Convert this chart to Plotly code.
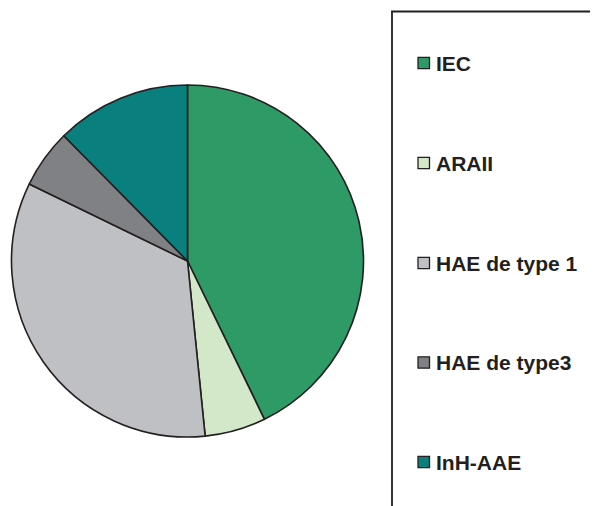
import plotly.graph_objects as go

labels = ["IEC", "ARAII", "HAE de type 1", "HAE de type 3", "InH-AAE"]
legend_text = ["IEC", "ARAII", "HAE de type 1", "HAE de type3", "InH-AAE"]
values = [42.8, 5.6, 33.8, 5.4, 12.4]
colors = ["#2E9A66", "#D3E8C8", "#BFC0C4", "#808184", "#0A807E"]

W, H = 598, 506
OFF = 8  # page body margin
FW, FH = W - OFF, H - OFF

def px(x):
    return (x - OFF) / FW

def py(y):
    return 1 - (y - OFF) / FH

cx, cy, r = 187.5, 261, 176

fig = go.Figure(go.Pie(
    labels=labels,
    values=values,
    sort=False,
    direction="clockwise",
    rotation=0,
    textinfo="none",
    hoverinfo="label+percent",
    marker=dict(colors=colors, line=dict(color="#231F20", width=1.6)),
    domain=dict(x=[px(cx - r), px(cx + r)], y=[py(cy + r), py(cy - r)]),
    showlegend=False,
))

shapes = []
annotations = []
# legend frame (left and top edges)
shapes.append(dict(type="line", xref="paper", yref="paper",
                   x0=px(392), y0=0, x1=px(392), y1=py(11.5),
                   line=dict(color="#231F20", width=1.8)))
shapes.append(dict(type="line", xref="paper", yref="paper",
                   x0=px(391.1), y0=py(11.5), x1=1, y1=py(11.5),
                   line=dict(color="#231F20", width=1.8)))

ys = [63, 163, 263, 362.5, 462]
for lab, col, y in zip(legend_text, colors, ys):
    shapes.append(dict(type="rect", xref="paper", yref="paper",
                       x0=px(418), x1=px(429.5), y0=py(y - 5.7), y1=py(y + 5.7),
                       fillcolor=col, line=dict(color="#231F20", width=1.3)))
    annotations.append(dict(xref="paper", yref="paper", x=px(434), y=py(y),
                            xanchor="left", yanchor="middle", showarrow=False,
                            text="<b>%s</b>" % lab,
                            font=dict(family="Liberation Sans, Arial", size=21, color="#231F20")))

fig.update_layout(
    width=FW, height=FH,
    margin=dict(l=0, r=0, t=0, b=0),
    paper_bgcolor="white",
    plot_bgcolor="white",
    shapes=shapes,
    annotations=annotations,
)

fig.write_html("out.html")
